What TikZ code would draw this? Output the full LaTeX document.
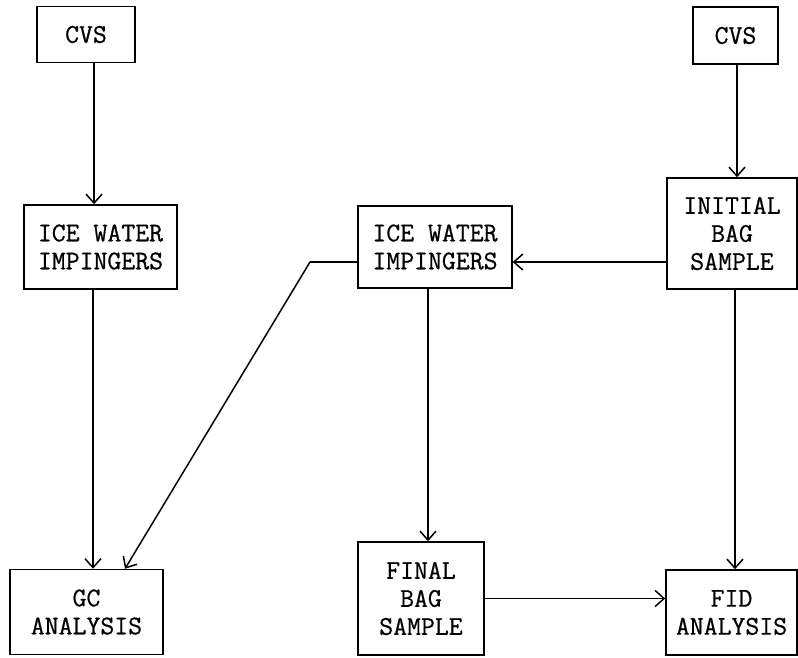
\documentclass[tikz,border=0pt]{standalone}
\usepackage{fontspec}
\usetikzlibrary{arrows.meta}
\newfontfamily\typefont{Latin Modern Mono}[AutoFakeBold=0.7]
\newcommand{\boxfont}{\typefont\bfseries\fontsize{27}{28}\selectfont}
\tikzset{box/.style={draw, line width=1.5pt, align=center, inner sep=0pt, font=\boxfont},
		flow/.style={line width=1.5pt, -{Straight Barb[length=9pt,width=16pt,line width=1.5pt]}}}

\begin{document}
\begin{tikzpicture}[x=1pt, y=-1pt]

					\useasboundingbox (0,0) rectangle (798,657);

					% left column
					\node[box, minimum width=98, minimum height=56] (cvsL) at (86,34.5) {CVS};
					\node[box, minimum width=153, minimum height=84] (iceL) at (100.5,247) {ICE WATER\\IMPINGERS};
					\node[box, minimum width=153, minimum height=85] (gc) at (86.5,612) {GC\\ANALYSIS};

					% middle column
					\node[box, minimum width=154, minimum height=82] (iceM) at (435,247) {ICE WATER\\IMPINGERS};
					\node[box, minimum width=126, minimum height=113] (final) at (421,598.5) {FINAL\\BAG\\SAMPLE};

					% right column
					\node[box, minimum width=85, minimum height=57] (cvsR) at (735.5,35.5) {CVS};
					\node[box, minimum width=130, minimum height=111] (initial) at (732,233.5) {INITIAL\\BAG\\SAMPLE};
					\node[box, minimum width=131, minimum height=85] (fid) at (731.5,612.5) {FID\\ANALYSIS};

					\coordinate (row) at (0,262);
					\coordinate (bend) at (310,262);

					\draw[flow] ([xshift=8]cvsL.south) -- ([xshift=8]cvsL.south |- iceL.north);
					\draw[flow] ([xshift=-7.5]iceL.south) -- ([xshift=-7.5]iceL.south |- gc.north);
					\draw[line width=1.5pt] (iceM.west |- row) -- (bend);
					\draw[flow] (bend) -- ([xshift=38.5]gc.north);

					\draw[flow] ([xshift=1.5]cvsR.south) -- ([xshift=1.5]cvsR.south |- initial.north);
					\draw[flow] (initial.west |- row) -- (iceM.east |- row);
					\draw[flow] ([xshift=-7]iceM.south) -- ([xshift=-7]iceM.south |- final.north);
					\draw[flow] ([xshift=3]initial.south) -- ([xshift=3]initial.south |- fid.north);
					\draw[flow] (final.east) -- (final.east -| fid.west);

				\end{tikzpicture}
\end{document}
